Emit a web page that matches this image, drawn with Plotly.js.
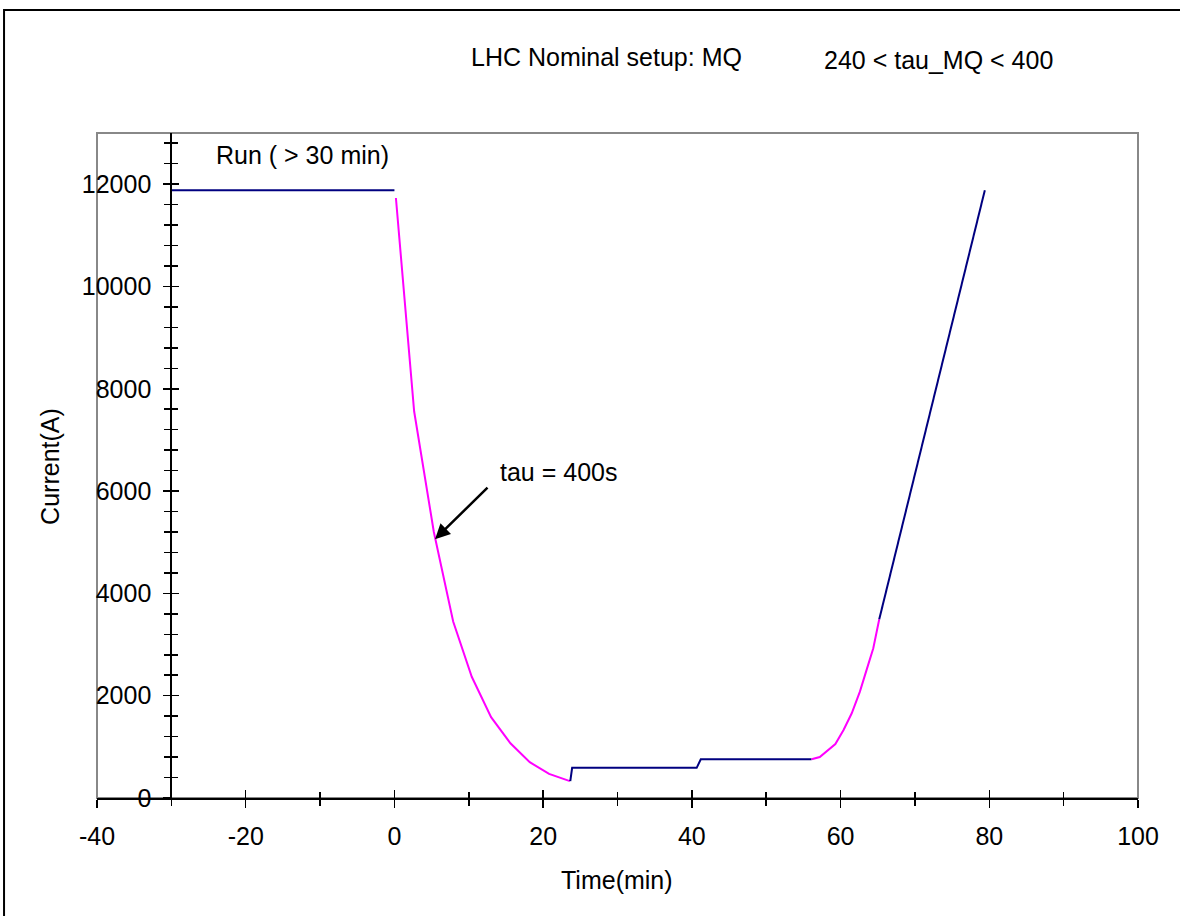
<!DOCTYPE html>
<html>
<head>
<meta charset="utf-8">
<script src="https://cdn.plot.ly/plotly-3.0.1.min.js"></script>
<style>
  html, body { margin: 0; padding: 0; background: #ffffff; }
  #chart { width: 1180px; height: 916px; }
</style>
</head>
<body>
<div id="chart"></div>
<script>
// ---- data ----
const runX = [-30, 0];
const runY = [11880, 11880];

const decayX = [0.2, 2.65, 5.3, 7.9, 10.4, 13.0, 15.6, 18.2, 20.8, 23.6];
const decayY = [11730, 7560, 5200, 3450, 2370, 1580, 1070, 700, 470, 330];

const flatX = [23.65, 23.9, 40.65, 41.2, 56.1];
const flatY = [330, 590, 590, 757, 757];

const riseX = [56.1, 57.2, 59.3, 60.4, 61.5, 62.6, 63.5, 64.4, 65.2];
const riseY = [757, 800, 1056, 1330, 1657, 2079, 2504, 2928, 3495];

const rampX = [65.2, 79.4];
const rampY = [3495, 11880];

const xRange = [-40, 100];
const yRange = [0, 13000];
const yAxisAtX = -30;

const xTickVals = [-40, -20, 0, 20, 40, 60, 80, 100];
const xTickText = ["-40", "-20", "0", "20", "40", "60", "80", "100"];
const yTickVals = [0, 2000, 4000, 6000, 8000, 10000, 12000];
const yTickText = ["0", "2000", "4000", "6000", "8000", "10000", "12000"];

const titleLeft = "LHC Nominal setup: MQ";
const titleRight = "240 < tau_MQ < 400";
const runLabel = "Run ( > 30 min)";
const tauLabel = "tau = 400s";
const tauPoint = [5.46, 5060];
const xTitle = "Time(min)";
const yTitle = "Current(A)";

// ---- styling ----
const FONT = "Liberation Sans, Arial, sans-serif";
const NAVY = "#000080";
const MAGENTA = "#FF00FF";
const fsz = 25;

const navyLine = {color: NAVY, width: 2};
const magLine = {color: MAGENTA, width: 2};

const traces = [
  {x: runX, y: runY, mode: "lines", line: navyLine, hoverinfo: "skip"},
  {x: decayX, y: decayY, mode: "lines", line: magLine, hoverinfo: "skip"},
  {x: flatX, y: flatY, mode: "lines", line: navyLine, hoverinfo: "skip"},
  {x: riseX, y: riseY, mode: "lines", line: magLine, hoverinfo: "skip"},
  {x: rampX, y: rampY, mode: "lines", line: navyLine, hoverinfo: "skip"},
  // empty helper trace so the overlay axes (inner half of crossing ticks) are drawn
  {x: [], y: [], xaxis: "x2", yaxis: "y2", mode: "lines", hoverinfo: "skip"}
];

const yPos = (yAxisAtX - xRange[0]) / (xRange[1] - xRange[0]);

const layout = {
  width: 1180,
  height: 916,
  margin: {l: 97, r: 42, t: 133, b: 118},
  paper_bgcolor: "#ffffff",
  plot_bgcolor: "#ffffff",
  showlegend: false,
  font: {family: FONT, size: fsz, color: "#000000"},
  xaxis: {
    range: xRange, tickmode: "array", tickvals: xTickVals, ticktext: xTickText,
    showgrid: false, zeroline: false,
    showline: true, linecolor: "#000000", linewidth: 2,
    ticks: "outside", ticklen: 8, tickwidth: 1.5, tickcolor: "#000000",
    minor: {dtick: 10, tick0: 0, ticks: "outside", ticklen: 6, tickwidth: 1.5, tickcolor: "#000000", showgrid: false},
    tickfont: {family: FONT, size: fsz, color: "#000000"},
    ticklabelstandoff: 7,
    fixedrange: true
  },
  xaxis2: {
    overlaying: "x", anchor: "y", side: "bottom",
    range: xRange, dtick: 20, tick0: 0,
    showgrid: false, zeroline: false, showline: false,
    ticks: "inside", ticklen: 8, tickwidth: 1.5, tickcolor: "#000000",
    minor: {dtick: 10, ticks: "inside", ticklen: 6, tickwidth: 1.5, tickcolor: "#000000", showgrid: false},
    showticklabels: false, fixedrange: true
  },
  yaxis: {
    range: yRange, tickmode: "array", tickvals: yTickVals, ticktext: yTickText,
    anchor: "free", position: yPos,
    showgrid: false, zeroline: false,
    showline: true, linecolor: "#000000", linewidth: 2,
    ticks: "outside", ticklen: 7, tickwidth: 1.5, tickcolor: "#000000",
    minor: {dtick: 400, tick0: 0, ticks: "outside", ticklen: 6, tickwidth: 1.5, tickcolor: "#000000", showgrid: false},
    tickfont: {family: FONT, size: fsz, color: "#000000"},
    ticklabelstandoff: 7,
    fixedrange: true
  },
  yaxis2: {
    overlaying: "y", anchor: "free", position: yPos, side: "left",
    range: yRange, dtick: 2000, tick0: 0,
    showgrid: false, zeroline: false, showline: false,
    ticks: "inside", ticklen: 7, tickwidth: 1.5, tickcolor: "#000000",
    minor: {dtick: 400, ticks: "inside", ticklen: 6, tickwidth: 1.5, tickcolor: "#000000", showgrid: false},
    showticklabels: false, fixedrange: true
  },
  shapes: [
    // gray plot frame
    {type: "rect", xref: "paper", yref: "paper", x0: 0, x1: 1, y0: 0, y1: 1,
     line: {color: "#888888", width: 2}, layer: "below"},
    // outer page frame (clipped at right and bottom)
    {type: "rect", xref: "paper", yref: "paper", x0: -0.0893, x1: 1.1, y0: -0.3, y1: 1.185,
     line: {color: "#000000", width: 2}, layer: "below"}
  ],
  annotations: [
    {xref: "paper", yref: "paper", x: 0.489, y: 1.114, text: titleLeft, showarrow: false,
     xanchor: "center", yanchor: "middle", font: {family: FONT, size: fsz, color: "#000000"}},
    {xref: "paper", yref: "paper", x: 0.808, y: 1.110, text: titleRight, showarrow: false,
     xanchor: "center", yanchor: "middle", font: {family: FONT, size: fsz, color: "#000000"}},
    {xref: "x", yref: "y", x: -12.4, y: 12577, text: runLabel, showarrow: false,
     xanchor: "center", yanchor: "middle", font: {family: FONT, size: fsz, color: "#000000"}},
    {xref: "x", yref: "y", x: 22.0, y: 6377, text: tauLabel, showarrow: false,
     xanchor: "center", yanchor: "middle", font: {family: FONT, size: fsz, color: "#000000"}},
    {xref: "x", yref: "y", x: tauPoint[0], y: tauPoint[1], text: "", showarrow: true,
     ax: 54, ay: -53, arrowhead: 2, arrowsize: 1.2, arrowwidth: 2.5, arrowcolor: "#000000"},
    {xref: "paper", yref: "paper", x: 0.4995, y: -0.1233, text: xTitle, showarrow: false,
     xanchor: "center", yanchor: "middle", font: {family: FONT, size: fsz, color: "#000000"}},
    {xref: "paper", yref: "paper", x: -0.0451, y: 0.498, text: yTitle, showarrow: false, textangle: -90,
     xanchor: "center", yanchor: "middle", font: {family: FONT, size: fsz, color: "#000000"}}
  ]
};

Plotly.newPlot("chart", traces, layout, {staticPlot: true, displayModeBar: false});
</script>
</body>
</html>
